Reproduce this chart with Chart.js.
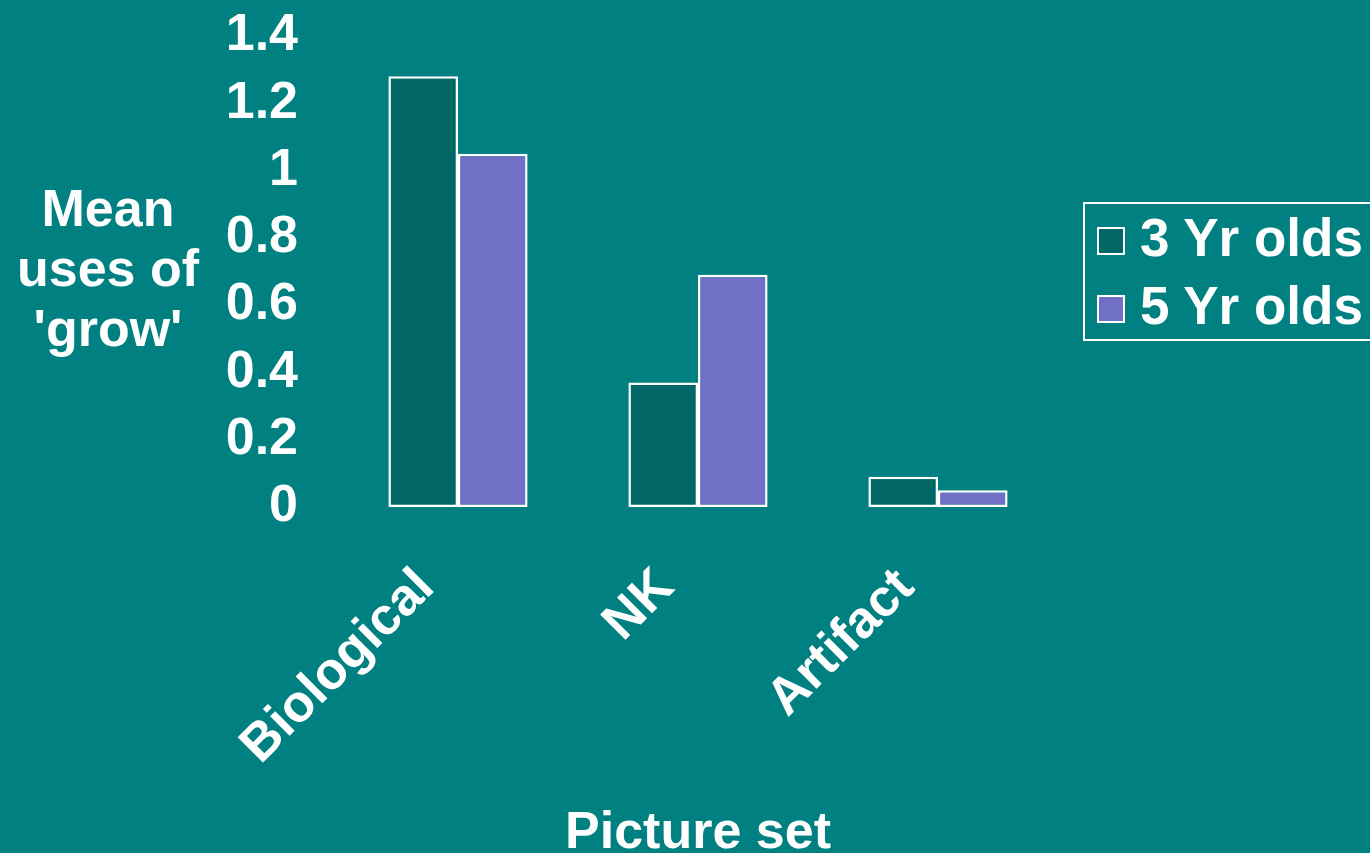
<!DOCTYPE html>
<html>
<head>
<meta charset="utf-8">
<script src="https://cdn.jsdelivr.net/npm/chart.js@4/dist/chart.umd.min.js"></script>
<style>
  html, body { margin: 0; padding: 0; background: #008080; overflow: hidden; }
  #wrap {
    position: relative; width: 1370px; height: 853px;
    font-family: "Liberation Sans", Arial, sans-serif; font-weight: bold; color: #fff;
  }
  #yTitle {
    position: absolute; left: 0; top: 178px; width: 216px;
    text-align: center; font-size: 52px; line-height: 60px;
  }
  #legend {
    position: absolute; left: 1083px; top: 202px; width: 300px; height: 135px;
    border: 2px solid #fff;
  }
  .item { position: absolute; left: 12px; font-size: 53px; line-height: 52px; white-space: nowrap; }
  .swatch {
    position: absolute; left: 0; width: 24px; height: 24px; border: 2px solid #fff;
  }
  .item span.txt { position: absolute; left: 43px; top: 1px; }
</style>
</head>
<body>
<div id="wrap">
  <canvas id="chart" width="1370" height="853"></canvas>
  <div id="yTitle">Mean<br>uses of<br>'grow'</div>
  <div id="legend"></div>
</div>
<script>
const categories = ["Biological", "NK", "Artifact"];
const seriesNames = ["3 Yr olds", "5 Yr olds"];
const threeYrOlds = [1.28, 0.37, 0.09];
const fiveYrOlds = [1.05, 0.69, 0.05];
const yTicks = [0, 0.2, 0.4, 0.6, 0.8, 1, 1.2, 1.4];
const colors = ["#006666", "#6f70c6"];

const font = { family: "'Liberation Sans', Arial, sans-serif", size: 52, weight: "bold" };

const chart = new Chart(document.getElementById("chart").getContext("2d"), {
    type: "bar",
    data: {
        labels: categories,
        datasets: [
            { label: seriesNames[0], data: threeYrOlds, backgroundColor: colors[0] },
            { label: seriesNames[1], data: fiveYrOlds, backgroundColor: colors[1] },
        ].map((d) => Object.assign(d, {
            borderColor: "#ffffff",
            borderWidth: 2.5,
            borderSkipped: false,
            categoryPercentage: 0.58,
            barPercentage: 1.0,
        })),
    },
    options: {
        responsive: false,
        animation: false,
        layout: { padding: { top: 36, right: 312, left: 0, bottom: 0 } },
        plugins: { legend: { display: false }, tooltip: { enabled: false } },
        scales: {
            x: {
                grid: { display: false, drawTicks: false },
                border: { display: false },
                ticks: {
                    color: "#fff", font: font, minRotation: 45, maxRotation: 45,
                    autoSkip: false, padding: 50, labelOffset: -32,
                },
                title: {
                    display: true, text: "Picture set", color: "#fff", font: font,
                    padding: { top: 0, bottom: -12 },
                },
                afterFit: (scale) => { scale.height = 346; },
            },
            y: {
                min: yTicks[0],
                max: yTicks[yTicks.length - 1],
                grid: { display: false, drawTicks: false },
                border: { display: false },
                afterBuildTicks: (scale) => { scale.ticks = yTicks.map((v) => ({ value: v })); },
                ticks: {
                    color: "#fff", font: font, padding: 40, autoSkip: false,
                    callback: (v) => String(Math.round(v * 10) / 10),
                },
                afterFit: (scale) => {
                    scale.width = 338;
                    scale.paddingTop = 0;
                    scale.paddingBottom = 0;
                },
            },
        },
    },
});

// legend box
const legend = document.getElementById("legend");
chart.data.datasets.forEach((ds, i) => {
    const item = document.createElement("div");
    item.className = "item";
    item.style.top = (7 + i * 68) + "px";
    item.innerHTML = '<div class="swatch" style="top:16px;background:' + ds.backgroundColor +
        '"></div><span class="txt">' + ds.label + "</span>";
    legend.appendChild(item);
});
</script>
</body>
</html>
